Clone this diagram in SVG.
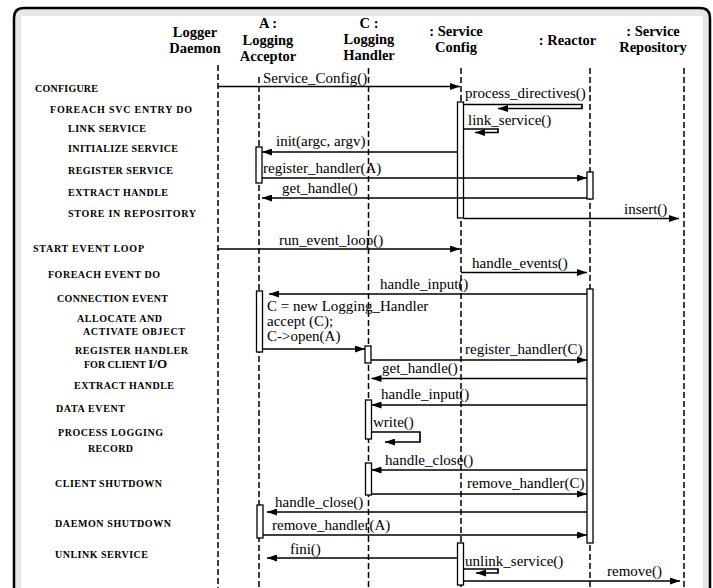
<svg xmlns="http://www.w3.org/2000/svg" width="713" height="588" viewBox="0 0 713 588">
<defs>
<marker id="ah" markerWidth="10" markerHeight="7" refX="10" refY="3.5" orient="auto" markerUnits="userSpaceOnUse"><path d="M0,0 L10,3.5 L0,7 Z" fill="#000"/></marker>
<style>
.hd{font-family:"Liberation Serif","Times New Roman",serif;font-weight:bold;font-size:14.5px;text-anchor:middle;fill:#000}
.st{font-family:"Liberation Serif","Times New Roman",serif;font-weight:bold;font-size:10px;fill:#000}
.lb{font-family:"Liberation Serif","Times New Roman",serif;font-size:15px;fill:#000}
.ll{stroke:#000;stroke-width:1.5;stroke-dasharray:6 3;fill:none}
.bar{fill:#fff;stroke:#000;stroke-width:1.3}
.msg{stroke:#000;stroke-width:1.7;fill:none;marker-end:url(#ah)}
</style>
</defs>
<path d="M24,8 H700 Q710,8 710,18 V620 H14 V18 Q14,8 24,8 Z" fill="#e6e6e6" stroke="#000" stroke-width="2.5"/>
<rect x="21" y="16" width="682" height="600" fill="#fff"/>

<g id="steps">
<text class="st" x="35" y="92" textLength="63" lengthAdjust="spacing">CONFIGURE</text>
<text class="st" x="50" y="113" textLength="142" lengthAdjust="spacing">FOREACH SVC ENTRY DO</text>
<text class="st" x="68" y="132" textLength="78" lengthAdjust="spacing">LINK SERVICE</text>
<text class="st" x="68" y="152" textLength="110" lengthAdjust="spacing">INITIALIZE SERVICE</text>
<text class="st" x="68" y="174" textLength="105" lengthAdjust="spacing">REGISTER SERVICE</text>
<text class="st" x="68" y="196" textLength="100" lengthAdjust="spacing">EXTRACT HANDLE</text>
<text class="st" x="68" y="217" textLength="128" lengthAdjust="spacing">STORE IN REPOSITORY</text>
<text class="st" x="33" y="252" textLength="111" lengthAdjust="spacing">START EVENT LOOP</text>
<text class="st" x="48" y="278" textLength="112" lengthAdjust="spacing">FOREACH EVENT DO</text>
<text class="st" x="57" y="302" textLength="111" lengthAdjust="spacing">CONNECTION EVENT</text>
<text class="st" x="77" y="322" textLength="85" lengthAdjust="spacing">ALLOCATE AND</text>
<text class="st" x="83" y="335" textLength="102" lengthAdjust="spacing">ACTIVATE OBJECT</text>
<text class="st" x="75" y="354" textLength="113" lengthAdjust="spacing">REGISTER HANDLER</text>
<text class="st" x="84" y="368">FOR CLIENT <tspan font-size="13">I/O</tspan></text>
<text class="st" x="74" y="389" textLength="100" lengthAdjust="spacing">EXTRACT HANDLE</text>
<text class="st" x="56" y="412" textLength="69" lengthAdjust="spacing">DATA EVENT</text>
<text class="st" x="58" y="436" textLength="105" lengthAdjust="spacing">PROCESS LOGGING</text>
<text class="st" x="88" y="452" textLength="45" lengthAdjust="spacing">RECORD</text>
<text class="st" x="55" y="487" textLength="107" lengthAdjust="spacing">CLIENT SHUTDOWN</text>
<text class="st" x="55" y="527" textLength="116" lengthAdjust="spacing">DAEMON SHUTDOWN</text>
<text class="st" x="55" y="558" textLength="93" lengthAdjust="spacing">UNLINK SERVICE</text>
</g>

<g id="logger-daemon">
<text class="hd" x="195" y="37">Logger</text>
<text class="hd" x="195" y="53">Daemon</text>
<line class="ll" x1="218" y1="65" x2="218" y2="590" stroke-width="2"/>
</g>

<g id="logging-acceptor">
<text class="hd" x="268" y="28">A :</text>
<text class="hd" x="268" y="44.5">Logging</text>
<text class="hd" x="268" y="61">Acceptor</text>
<line class="ll" x1="259" y1="77" x2="259" y2="590"/>
<rect class="bar" x="256" y="147" width="6" height="36"/>
<rect class="bar" x="256.5" y="291" width="6" height="61"/>
<rect class="bar" x="257" y="505" width="6" height="33"/>
</g>

<g id="logging-handler">
<text class="hd" x="369" y="28">C :</text>
<text class="hd" x="369" y="44">Logging</text>
<text class="hd" x="369" y="60">Handler</text>
<line class="ll" x1="368.5" y1="68" x2="368.5" y2="590"/>
<rect class="bar" x="365" y="346" width="6" height="17"/>
<rect class="bar" x="365.5" y="400" width="6" height="39"/>
<rect class="bar" x="365.5" y="463" width="6" height="32"/>
</g>

<g id="service-config">
<text class="hd" x="456" y="36">: Service</text>
<text class="hd" x="456" y="51.5">Config</text>
<line class="ll" x1="461" y1="68" x2="461" y2="590"/>
<rect class="bar" x="457.5" y="102" width="6" height="116"/>
<rect class="bar" x="457.5" y="543" width="6" height="42"/>
</g>

<g id="reactor">
<text class="hd" x="567.5" y="45">: Reactor</text>
<line class="ll" x1="590" y1="68" x2="590" y2="590"/>
<rect class="bar" x="587" y="172" width="6" height="27"/>
<rect class="bar" x="587" y="289" width="6" height="254"/>
</g>

<g id="service-repository">
<text class="hd" x="653" y="36">: Service</text>
<text class="hd" x="653" y="51.5">Repository</text>
<line class="ll" x1="684" y1="68" x2="684" y2="590"/>
</g>

<g id="connectors">
<line class="msg" x1="218" y1="86.5" x2="460" y2="86.5"/>
<text class="lb" x="263" y="83">Service_Config()</text>

<polyline class="msg" points="463.5,104.5 582,104.5 582,108.5 498,108.5"/>
<text class="lb" x="465" y="98">process_directives()</text>

<polyline class="msg" points="463.5,129 498,129 498,132.5 475,132.5"/>
<text class="lb" x="468" y="125">link_service()</text>

<line class="msg" x1="457.5" y1="152" x2="262" y2="152"/>
<text class="lb" x="276" y="146">init(argc, argv)</text>

<line class="msg" x1="262" y1="178" x2="587" y2="178"/>
<text class="lb" x="263" y="173">register_handler(A)</text>

<line class="msg" x1="587" y1="198" x2="262" y2="198"/>
<text class="lb" x="282" y="193">get_handle()</text>

<line class="msg" x1="463.5" y1="218.5" x2="679" y2="218.5"/>
<text class="lb" x="624" y="214">insert()</text>

<line class="msg" x1="218" y1="249" x2="460" y2="249"/>
<text class="lb" x="279" y="245">run_event_loop()</text>

<line class="msg" x1="461" y1="272.5" x2="587" y2="272.5"/>
<text class="lb" x="472" y="268">handle_events()</text>

<line class="msg" x1="587" y1="294" x2="269" y2="294"/>
<text class="lb" x="380" y="289">handle_input()</text>

<text class="lb" x="267" y="311">C = new Logging_Handler</text>
<text class="lb" x="267" y="326">accept (C);</text>
<text class="lb" x="267" y="341">C-&gt;open(A)</text>
<line class="msg" x1="262.5" y1="349" x2="365" y2="349"/>

<line class="msg" x1="371" y1="360" x2="587" y2="360"/>
<text class="lb" x="465" y="354">register_handler(C)</text>

<line class="msg" x1="587" y1="378.5" x2="371.5" y2="378.5"/>
<text class="lb" x="382" y="373">get_handle()</text>

<line class="msg" x1="587" y1="405" x2="371.5" y2="405"/>
<text class="lb" x="381" y="399">handle_input()</text>

<polyline class="msg" points="371.5,432 420,432 420,442 385,442"/>
<text class="lb" x="373" y="427">write()</text>

<line class="msg" x1="587" y1="470" x2="371.5" y2="470"/>
<text class="lb" x="385" y="465">handle_close()</text>

<line class="msg" x1="371.5" y1="494" x2="587" y2="494"/>
<text class="lb" x="467" y="488">remove_handler(C)</text>

<line class="msg" x1="587" y1="512" x2="267" y2="512"/>
<text class="lb" x="275" y="507">handle_close()</text>

<line class="msg" x1="263" y1="535" x2="587" y2="535"/>
<text class="lb" x="272" y="530">remove_handler(A)</text>

<line class="msg" x1="457.5" y1="558" x2="267" y2="558"/>
<text class="lb" x="290" y="554">fini()</text>

<polyline class="msg" points="463.5,569 498,569 498,573 476,573"/>
<text class="lb" x="465" y="566">unlink_service()</text>

<line class="msg" x1="463.5" y1="581" x2="680" y2="581"/>
<text class="lb" x="607" y="576">remove()</text>
</g>
</svg>
